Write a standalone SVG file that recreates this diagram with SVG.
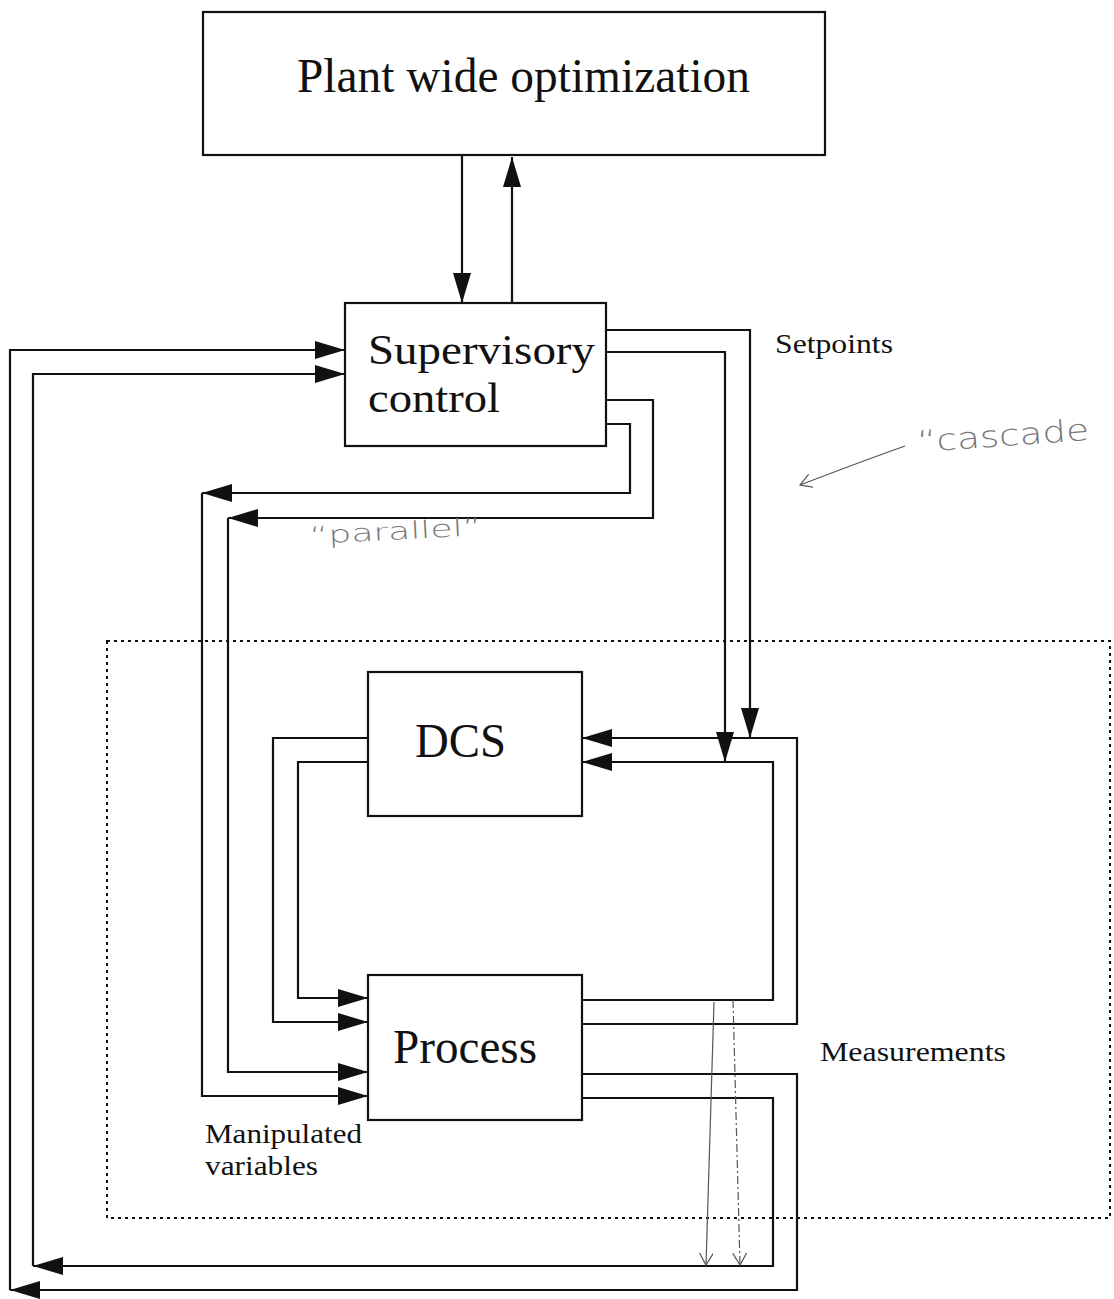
<svg xmlns="http://www.w3.org/2000/svg" width="1114" height="1299" viewBox="0 0 1114 1299">
<style>
.box{fill:#fff;stroke:#111;stroke-width:2.2}
.lbl{font-family:"Liberation Serif","Times New Roman",serif;fill:#111}
.big{font-size:48px}
.sup{font-size:42px}
.small{font-size:28px}
.conn path{fill:none;stroke:#111;stroke-width:2.2}
.arr{marker-end:url(#ah)}
.hand{font-family:"DejaVu Sans","Noto Sans",sans-serif;fill:#777;font-weight:300}
.thin{fill:none;stroke:#555;stroke-width:1.2}
</style>
<defs>
<marker id="ah" markerUnits="userSpaceOnUse" markerWidth="32" markerHeight="20" refX="30" refY="9" orient="auto">
<path d="M0,0 L30,9 L0,18 z" fill="#111"/>
</marker>
<marker id="oh" markerUnits="userSpaceOnUse" markerWidth="16" markerHeight="16" refX="12" refY="7" orient="auto">
<path d="M0,0 L12,7 L0,14" fill="none" stroke="#555" stroke-width="1.2"/>
</marker>
</defs>
<rect width="1114" height="1299" fill="#fff"/>

<g id="boundary">
<rect x="107" y="641" width="1003" height="577" fill="none" stroke="#111" stroke-width="2" stroke-dasharray="3,4"/>
</g>

<g id="plant">
<rect class="box" x="203" y="12" width="622" height="143"/>
<text class="lbl big" x="297" y="92" textLength="453" lengthAdjust="spacingAndGlyphs">Plant wide optimization</text>
</g>

<g id="supervisory">
<rect class="box" x="345" y="303" width="261" height="143"/>
<text class="lbl sup" x="368" y="364" textLength="227" lengthAdjust="spacingAndGlyphs">Supervisory</text>
<text class="lbl sup" x="368" y="412" textLength="132" lengthAdjust="spacingAndGlyphs">control</text>
</g>

<g id="dcs">
<rect class="box" x="368" y="672" width="214" height="144"/>
<text class="lbl big" x="415" y="757" textLength="91" lengthAdjust="spacingAndGlyphs">DCS</text>
</g>

<g id="process">
<rect class="box" x="368" y="975" width="214" height="145"/>
<text class="lbl big" x="393" y="1063" textLength="144" lengthAdjust="spacingAndGlyphs">Process</text>
</g>

<g id="connectors" class="conn">
<path class="arr" d="M462,155 V303"/>
<path class="arr" d="M512,303 V157"/>
<path class="arr" d="M606,330 H750 V738"/>
<path class="arr" d="M606,352 H725 V762"/>
<path class="arr" d="M582,1024 H797 V738 H582"/>
<path class="arr" d="M582,1000 H773 V762 H582"/>
<path class="arr" d="M368,738 H273 V1022 H368"/>
<path class="arr" d="M368,762 H298 V998 H368"/>
<path class="arr" d="M606,400 H653 V518 H228"/>
<path class="arr" d="M228,518 V1072 H368"/>
<path class="arr" d="M606,424 H630 V493 H202"/>
<path class="arr" d="M202,493 V1096 H368"/>
<path class="arr" d="M582,1074 H797 V1290 H10"/>
<path class="arr" d="M10,1290 V350 H345"/>
<path class="arr" d="M582,1098 H773 V1266 H33"/>
<path class="arr" d="M33,1266 V374 H345"/>
</g>

<g id="labels">
<text class="lbl small" x="775" y="353" textLength="118" lengthAdjust="spacingAndGlyphs">Setpoints</text>
<text class="lbl small" x="820" y="1061" textLength="186" lengthAdjust="spacingAndGlyphs">Measurements</text>
<text class="lbl small" x="205" y="1143" textLength="157" lengthAdjust="spacingAndGlyphs">Manipulated</text>
<text class="lbl small" x="205" y="1175" textLength="113" lengthAdjust="spacingAndGlyphs">variables</text>
</g>

<g id="annotations">
<text class="hand" x="918" y="452" font-size="30" transform="rotate(-4 918 452)" textLength="172" lengthAdjust="spacingAndGlyphs">“cascade</text>
<path class="thin" d="M905,446 Q860,462 800,485" marker-end="url(#oh)"/>
<text class="hand" x="310" y="544" font-size="24" transform="rotate(-3 310 544)" textLength="172" lengthAdjust="spacingAndGlyphs">“parallel”</text>
<path class="thin" d="M714,1002 L706,1265" marker-end="url(#oh)"/>
<path class="thin" d="M733,1000 L740,1265" stroke-dasharray="8,3,2,3" marker-end="url(#oh)"/>
</g>
</svg>
